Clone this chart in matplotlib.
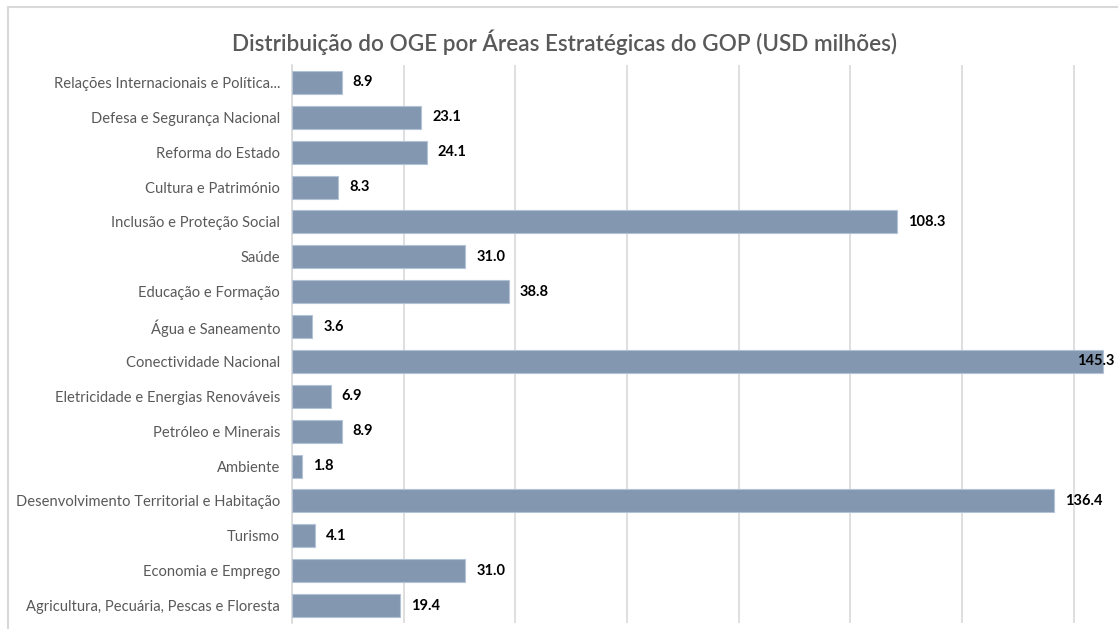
import matplotlib
matplotlib.use("Agg")
from matplotlib import pyplot as plt
from matplotlib.patches import Rectangle

# categories listed top to bottom as in the chart
categories = [
    "Relações Internacionais e Política...",
    "Defesa e Segurança Nacional",
    "Reforma do Estado",
    "Cultura e Património",
    "Inclusão e Proteção Social",
    "Saúde",
    "Educação e Formação",
    "Água e Saneamento",
    "Conectividade Nacional",
    "Eletricidade e Energias Renováveis",
    "Petróleo e Minerais",
    "Ambiente",
    "Desenvolvimento Territorial e Habitação",
    "Turismo",
    "Economia e Emprego",
    "Agricultura, Pecuária, Pescas e Floresta",
]
values = [8.9, 23.1, 24.1, 8.3, 108.3, 31.0, 38.8, 3.6,
          145.3, 6.9, 8.9, 1.8, 136.4, 4.1, 31.0, 19.4]
title = "Distribuição do OGE por Áreas Estratégicas do GOP (USD milhões)"

plt.rcParams['font.family'] = ['Lato', 'DejaVu Sans']

W, H = 1118, 629
fig = plt.figure(figsize=(W / 100, H / 100), dpi=100)

# plot area: 0 at x=292px, 20 units ~ 111.7px, rows from y=65 to y=623
px_per_unit = 5.583
xmax = 160
left = 292 / W
width = xmax * px_per_unit / W
bottom = (H - 623) / H
height = (623 - 65) / H
ax = fig.add_axes([left, bottom, width, height])

n = len(categories)
ypos = list(range(n - 1, -1, -1))
ax.barh(ypos, values, height=0.66, color="#8497b0", edgecolor="#b4c2d6",
        linewidth=0.8, zorder=3)

for y, v in zip(ypos, values):
    if v > 140:
        # would run off the chart: pull it back so it ends at the figure edge
        ax.annotate(f"{v:.1f}", xy=(0.997, y), xycoords=("figure fraction", "data"),
                    ha="right", va="center", fontsize=10.5, fontweight="bold",
                    color="#000000", zorder=4, annotation_clip=False)
    else:
        ax.annotate(f"{v:.1f}", xy=(v, y), xytext=(8, 0), textcoords="offset points",
                    ha="left", va="center", fontsize=10.5, fontweight="bold",
                    color="#000000", zorder=4, annotation_clip=False)

ax.set_xlim(0, xmax)
ax.set_ylim(-0.5, n - 0.5)
ax.set_xticks(range(0, xmax + 1, 20))
ax.xaxis.grid(True, color="#d9d9d9", linewidth=1.2, zorder=0)
ax.tick_params(axis="x", bottom=False, labelbottom=False)
ax.tick_params(axis="y", left=False, pad=5, labelsize=10.6, labelcolor="#595959")
ax.set_yticks(ypos)
ax.set_yticklabels(categories)
for s in ["top", "right", "bottom"]:
    ax.spines[s].set_visible(False)
ax.spines["left"].set_color("#d9d9d9")
ax.spines["left"].set_linewidth(1.2)

fig.text(565 / W, 1 - 42 / H, title, ha="center", va="center",
         fontsize=16.2, fontweight="semibold", color="#595959")

# chart border (cropped on right and bottom)
fig.patches.append(Rectangle((8 / W, -0.1), 1.2, 1 - 7 / H + 0.1,
                             transform=fig.transFigure, fill=False,
                             edgecolor="#d9d9d9", linewidth=1.5))

fig.savefig("out.png", dpi=100, facecolor="white")
